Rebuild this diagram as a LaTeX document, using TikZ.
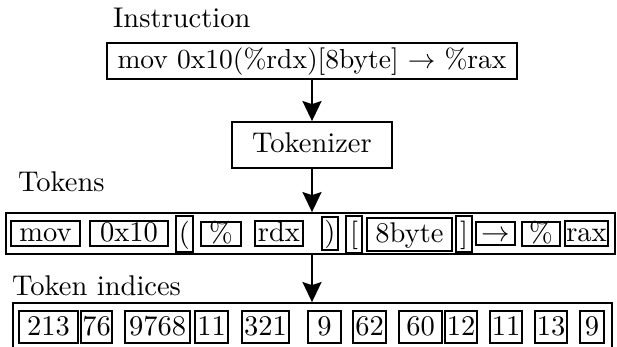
\RequirePackage{fix-cm}
\documentclass[tikz,border=0pt]{standalone}
\usepackage{fontspec}
\setmainfont{lmroman10-regular.otf}[Ligatures=TeX]
\usetikzlibrary{arrows.meta}
\tikzset{
  big/.style={font={\fontsize{28.5pt}{34pt}\selectfont}},
  bx/.style={big, draw, line width=1.8pt, inner sep=0pt, text height=19pt, text depth=3pt},
  lbl/.style={big, anchor=base west, inner sep=0pt},
  arr/.style={line width=2pt, -{Stealth[length=20pt,width=19pt,inset=3pt]}},
}
\begin{document}
\begin{tikzpicture}[x=1pt,y=-1pt]
\useasboundingbox (0,0) rectangle (617,347);
\clip (0,0) rectangle (617,347);
% labels
\node[lbl] (linst) at (113,28) {Instruction};
\node[lbl] (ltok) at (18,192) {Tokens};
\node[lbl] (lidx) at (12,295) {Token indices};
% main boxes
\node[bx, font={\fontsize{27.5pt}{33pt}\selectfont}, minimum width=410pt, minimum height=36pt] (ins) at (312,61) {mov 0x10(\%rdx)[8byte] $\rightarrow$ \%rax};
\node[bx, minimum width=160pt, minimum height=46pt] (tok) at (312,145) {Tokenizer};
\node[draw, line width=1.8pt, inner sep=0pt, minimum width=609pt, minimum height=41pt] (tokbox) at (310.5,233.5) {};
\node[draw, line width=1.8pt, inner sep=0pt, minimum width=599pt, minimum height=48pt] (idxbox) at (312.5,327) {};
% tokens
\node[bx, minimum width=69pt, minimum height=25pt] (t1) at (45.5,233.5) {mov};
\node[bx, minimum width=78pt, minimum height=25pt] (t2) at (129,233.5) {0x10};
\node[bx, minimum width=17pt, minimum height=36pt] (t3) at (184.5,234) {(};
\node[bx, minimum width=40pt, minimum height=24pt] (t4) at (221,234) {\%};
\node[bx, minimum width=48pt, minimum height=25pt] (t5) at (279,233.5) {rdx};
\node[bx, minimum width=16pt, minimum height=33pt] (t6) at (330,233.5) {)};
\node[bx, minimum width=16pt, minimum height=37pt] (t7) at (354,234.5) {[};
\node[bx, minimum width=85pt, minimum height=33pt] (t8) at (409.5,234.5) {8byte};
\node[bx, minimum width=16pt, minimum height=36pt] (t9) at (464,234) {]};
\node[bx, minimum width=39pt, minimum height=23pt] (t10) at (495.5,233.5) {$\rightarrow$};
\node[bx, minimum width=38pt, minimum height=24pt] (t11) at (541,234) {\%};
\node[bx, minimum width=43pt, minimum height=25pt] (t12) at (586.5,233.5) {rax};
% indices
\node[bx, minimum width=59pt, minimum height=32pt] (i1) at (48.5,327) {213};
\node[bx, minimum width=31pt, minimum height=32pt] (i2) at (96.5,327) {76};
\node[bx, minimum width=65pt, minimum height=32pt] (i3) at (157.5,327) {9768};
\node[bx, minimum width=33pt, minimum height=32pt] (i4) at (211.5,327) {11};
\node[bx, minimum width=47pt, minimum height=32pt] (i5) at (265.5,327) {321};
\node[bx, minimum width=33pt, minimum height=32pt] (i6) at (324.5,327) {9};
\node[bx, minimum width=33pt, minimum height=32pt] (i7) at (369.5,327) {62};
\node[bx, minimum width=43pt, minimum height=32pt] (i8) at (420.5,327) {60};
\node[bx, minimum width=32pt, minimum height=32pt] (i9) at (461,327) {12};
\node[bx, minimum width=32pt, minimum height=32pt] (i10) at (506,327) {11};
\node[bx, minimum width=32pt, minimum height=32pt] (i11) at (551,327) {13};
\node[bx, minimum width=24pt, minimum height=32pt] (i12) at (592,327) {9};
% arrows
\draw[arr] (ins.south) -- (tok.north);
\draw[arr] (tok.south) -- (tok.south |- tokbox.north);
\draw[arr] (tok.south |- tokbox.south) -- (tok.south |- idxbox.north);
\end{tikzpicture}
\end{document}
